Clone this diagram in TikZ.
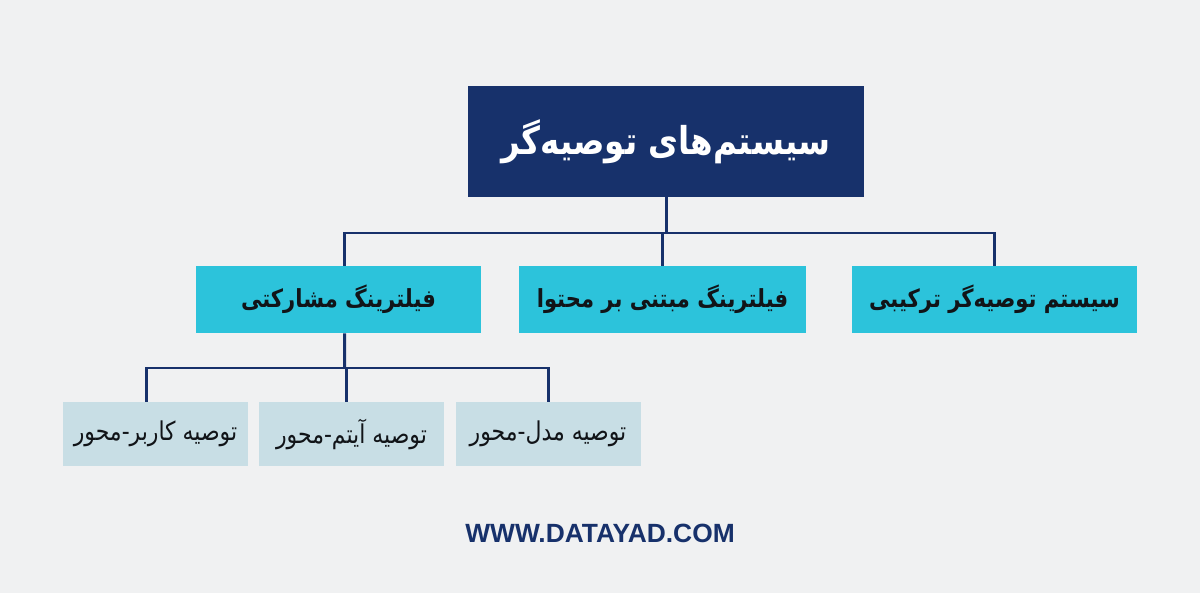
\documentclass[tikz,border=0pt]{standalone}
\usepackage{fontspec}
\usepackage{tikz}
\TeXXeTstate=1
\newfontfamily\fafont[Script=Arabic]{DejaVu Sans}
\newfontfamily\urlfont{Liberation Sans}
\newcommand{\fatext}[1]{\scalebox{1}[1.18]{\beginR #1\endR}}
\definecolor{bgpage}{HTML}{F0F1F2}
\definecolor{navy}{HTML}{17316B}
\definecolor{cyanbox}{HTML}{2CC3DB}
\definecolor{palebox}{HTML}{C8DEE5}
\definecolor{inkdark}{HTML}{111418}
\tikzset{
  rootbox/.style={fill=navy, text=white, inner sep=2pt, minimum width=7.92cm, minimum height=2.22cm, font=\fafont\bfseries\fontsize{18.5}{22}\selectfont},
  midbox/.style={fill=cyanbox, text=inkdark, inner sep=2pt, minimum height=1.34cm, font=\fafont\bfseries\fontsize{12}{15}\selectfont},
  leafbox/.style={fill=palebox, text=inkdark, inner sep=2pt, minimum width=3.7cm, minimum height=1.28cm, font=\fafont\fontsize{12.5}{15}\selectfont},
  link/.style={draw=navy, line width=1.7pt}
}
\begin{document}
\begin{tikzpicture}
\fill[bgpage] (0,0) rectangle (24,11.86);
\useasboundingbox (0,0) rectangle (24,11.86);

\node[rootbox] (1) at (13.32,9.03) {\fatext{سیستم‌های توصیه‌گر}};

\node[midbox, minimum width=5.7cm] (21) at (6.77,5.87) {\fatext{فیلترینگ مشارکتی}};
\node[midbox, minimum width=5.74cm] (22) at (13.25,5.87) {\fatext{فیلترینگ مبتنی بر محتوا}};
\node[midbox, minimum width=5.7cm] (23) at (19.89,5.87) {\fatext{سیستم توصیه‌گر ترکیبی}};

\node[leafbox] (31) at (3.11,3.18) {\fatext{توصیه کاربر-محور}};
\node[leafbox] (32) at (7.03,3.18) {\fatext{توصیه آیتم-محور}};
\node[leafbox] (33) at (10.96,3.18) {\fatext{توصیه مدل-محور}};

\node[text=navy, font=\urlfont\bfseries\fontsize{15}{18}\selectfont] (url) at (12,1.2) {WWW.DATAYAD.COM};

% connectors
\coordinate (b1) at (13.32,7.2);
\coordinate (b2) at (6.89,4.5);

\draw[link] (1.south) -- (b1);
\draw[link] ([xshift=0.12cm]21.north) |- (b1) -| (23.north);
\draw[link] (22.north) -- (22.north |- b1);
\draw[link] ([xshift=0.12cm]21.south) -- (b2);
\draw[link] ([xshift=-0.18cm]31.north) |- (b2) -| (33.north);
\draw[link] ([xshift=-0.1cm]32.north) -- ([xshift=-0.1cm]32.north |- b2);
\end{tikzpicture}
\end{document}
